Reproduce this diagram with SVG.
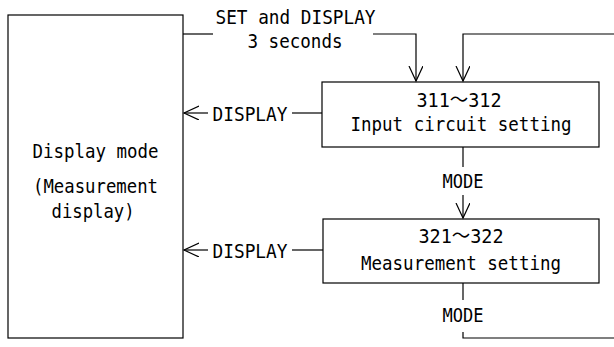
<svg xmlns="http://www.w3.org/2000/svg" width="614" height="347" viewBox="0 0 614 347">
<defs>
<style>
text{font-family:"DejaVu Sans Mono","Noto Sans CJK JP",monospace;font-size:20px;fill:#000;text-anchor:middle}
.box{fill:#fff;stroke:#000;stroke-width:1.2}
.ln{fill:none;stroke:#000;stroke-width:1.2}
</style>
<marker id="ah" markerUnits="userSpaceOnUse" markerWidth="18" markerHeight="16" refX="15" refY="7" orient="auto">
<path d="M0,0 L15,7 L0,14" fill="none" stroke="#000" stroke-width="1.2"/>
</marker>
</defs>
<g id="display-mode">
<rect class="box" x="8" y="15" width="175" height="323"/>
<text x="95.5" y="158" textLength="126" lengthAdjust="spacingAndGlyphs">Display mode</text>
<text x="95.5" y="193" textLength="125" lengthAdjust="spacingAndGlyphs">(Measurement</text>
<text x="93" y="218" textLength="83" lengthAdjust="spacingAndGlyphs">display)</text>
</g>
<g id="input-circuit">
<rect class="box" x="322" y="82" width="277" height="65"/>
<text x="459" y="107" textLength="85" lengthAdjust="spacingAndGlyphs">311～312</text>
<text x="461" y="131" textLength="221" lengthAdjust="spacingAndGlyphs">Input circuit setting</text>
</g>
<g id="measurement-setting">
<rect class="box" x="323" y="219" width="276" height="64"/>
<text x="461" y="243" textLength="85" lengthAdjust="spacingAndGlyphs">321～322</text>
<text x="461" y="270" textLength="200" lengthAdjust="spacingAndGlyphs">Measurement setting</text>
</g>
<g id="connectors">
<polyline class="ln" points="183,34 213,34"/>
<polyline class="ln" points="373,34 416,34 416,81" marker-end="url(#ah)"/>
<polyline class="ln" points="614,34 463,34 463,81" marker-end="url(#ah)"/>
<line class="ln" x1="322" y1="113" x2="292" y2="113"/>
<line class="ln" x1="208" y1="113" x2="184" y2="113" marker-end="url(#ah)"/>
<line class="ln" x1="323" y1="250" x2="292" y2="250"/>
<line class="ln" x1="208" y1="250" x2="184" y2="250" marker-end="url(#ah)"/>
<line class="ln" x1="463" y1="147" x2="463" y2="167"/>
<line class="ln" x1="463" y1="195" x2="463" y2="218" marker-end="url(#ah)"/>
<line class="ln" x1="463" y1="283" x2="463" y2="300"/>
<polyline class="ln" points="463,332 463,338 614,338"/>
<text x="295.5" y="24" textLength="160" lengthAdjust="spacingAndGlyphs">SET and DISPLAY</text>
<text x="295" y="48" textLength="95" lengthAdjust="spacingAndGlyphs">3 seconds</text>
<text x="250" y="121" textLength="75" lengthAdjust="spacingAndGlyphs">DISPLAY</text>
<text x="250" y="258" textLength="75" lengthAdjust="spacingAndGlyphs">DISPLAY</text>
<text x="463" y="188" textLength="41" lengthAdjust="spacingAndGlyphs">MODE</text>
<text x="463" y="322" textLength="41" lengthAdjust="spacingAndGlyphs">MODE</text>
</g>
</svg>
